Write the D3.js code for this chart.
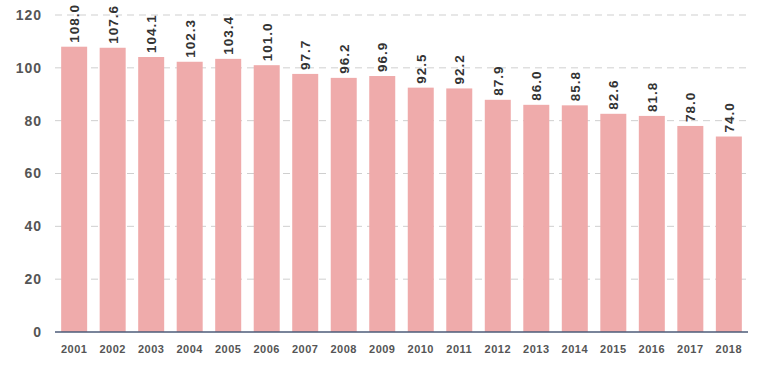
<!DOCTYPE html>
<html><head><meta charset="utf-8">
<script src="https://cdn.jsdelivr.net/npm/d3@7"></script>
<style>body{margin:0;background:#fff;}svg{display:block;font-family:"Liberation Sans",Arial,sans-serif;}</style>
</head><body>
<svg id="c" width="770" height="371"></svg>
<script>
const years = ["2001","2002","2003","2004","2005","2006","2007","2008","2009","2010","2011","2012","2013","2014","2015","2016","2017","2018"];
const values = [108.0,107.6,104.1,102.3,103.4,101.0,97.7,96.2,96.9,92.5,92.2,87.9,86.0,85.8,82.6,81.8,78.0,74.0];
const yTicks = [0,20,40,60,80,100,120];

const svg = d3.select("#c");
const L = 55, R = 748, T = 15, B = 332;
const x = d3.scaleBand().domain(years).range([L, R]).paddingInner(0.325).paddingOuter(0.16);
const y = d3.scaleLinear().domain([0,120]).range([B, T]);

// grid
svg.append("g").selectAll("line").data(yTicks.filter(d=>d>0)).join("line")
  .attr("x1", L).attr("x2", R).attr("y1", d=>y(d)).attr("y2", d=>y(d))
  .attr("stroke", "#cfcfcf").attr("stroke-width", 1).attr("stroke-dasharray", "7,5");

// y axis labels
const ya = svg.append("g").attr("transform", `translate(${L},0)`)
  .call(d3.axisLeft(y).tickValues(yTicks).tickSize(0).tickPadding(13));
ya.select(".domain").remove();
ya.selectAll("text").attr("font-size", 14).attr("font-weight", "bold").attr("fill", "#555")
  .attr("letter-spacing", "1px").attr("font-family", "Liberation Sans, Arial, sans-serif");

// bars
svg.append("g").selectAll("rect").data(values).join("rect")
  .attr("x", (d,i)=>x(years[i])).attr("width", x.bandwidth())
  .attr("y", d=>y(d)).attr("height", d=>B - y(d))
  .attr("fill", "#efabab");

// baseline
svg.append("line").attr("x1", L).attr("x2", R).attr("y1", B).attr("y2", B)
  .attr("stroke", "#4d5b78").attr("stroke-width", 1.5);

// x axis labels
const xa = svg.append("g").attr("transform", `translate(0,${B})`)
  .call(d3.axisBottom(x).tickSize(0).tickPadding(13));
xa.select(".domain").remove();
xa.selectAll("text").attr("font-size", 11).attr("font-weight", "bold").attr("fill", "#555")
  .attr("letter-spacing", "0.5px").attr("font-family", "Liberation Sans, Arial, sans-serif");

// value labels
svg.append("g").selectAll("text").data(values).join("text")
  .attr("transform", (d,i)=>`translate(${x(years[i]) + x.bandwidth()/2 + 5},${y(d) - 4}) rotate(-90)`)
  .attr("text-anchor", "start")
  .attr("font-size", 13.5).attr("font-weight", "bold").attr("fill", "#333")
  .attr("letter-spacing", "1px")
  .text(d=>d.toFixed(1));
</script>
</body></html>
